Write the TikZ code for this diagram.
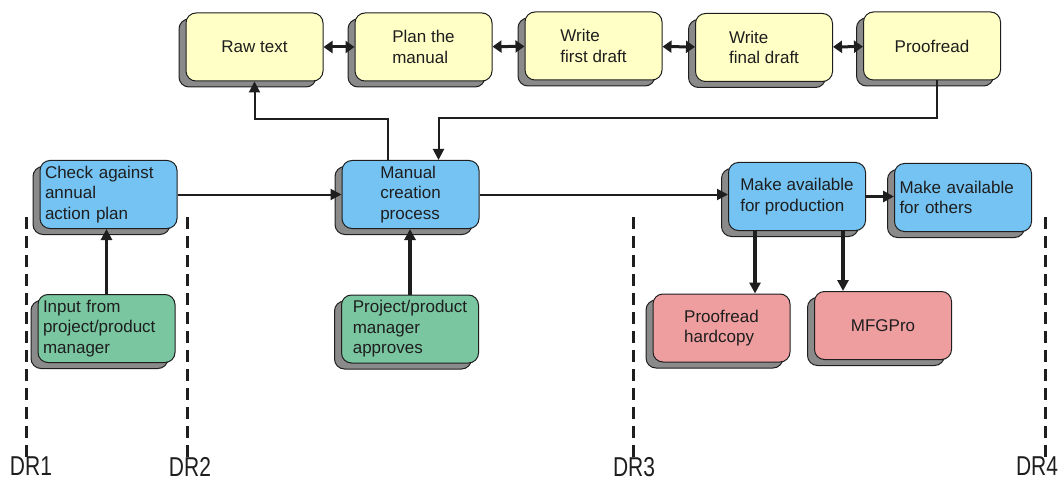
\documentclass[tikz,border=0pt]{standalone}
\usepackage{fontspec}
\setmainfont{Liberation Sans}
\usetikzlibrary{arrows.meta,shadows}
\definecolor{pad}{HTML}{FFFFC6}
\definecolor{sky}{HTML}{74C3F3}
\definecolor{mint}{HTML}{79C6A1}
\definecolor{rose}{HTML}{EF9EA0}
\definecolor{shade}{HTML}{8A8A8A}
\definecolor{ink}{HTML}{1E1E1E}
\begin{document}
\begin{tikzpicture}[x=1pt,y=-1pt,stage/.style={draw=ink,line width=1pt,rounded corners=10pt,minimum width=137pt,minimum height=68pt,inner sep=5pt,align=left,text=ink,font=\fontsize{17}{20.5}\selectfont,general shadow={shadow xshift=-7pt,shadow yshift=-6pt,fill=shade,draw=ink,line width=1pt}},wide/.style={text width=127pt},arr/.style={-{Triangle[length=11pt,width=11pt]},ink,line width=2pt},heavy/.style={arr,line width=3.3pt},both/.style={{Triangle[length=9pt,width=12pt]}-{Triangle[length=9pt,width=12pt]},ink,line width=3pt},drline/.style={ink,line width=3pt,dash pattern=on 12pt off 7pt},drlab/.style={anchor=north,inner sep=0pt,text=ink,font=\fontsize{21}{21}\selectfont}]
\useasboundingbox (0,0) rectangle (1064,481);
\node[stage,fill=pad] (raw) at (254.5,47) {Raw text};
\node[stage,fill=pad] (plan) at (423.5,47) {Plan the\\manual};
\node[stage,fill=pad] (first) at (593.5,46) {Write\\first draft};
\node[stage,fill=pad] (final) at (764,47.5) {Write\\final draft};
\node[stage,fill=pad] (proof) at (932,46) {Proofread};
\node[stage,fill=sky,wide] (check) at (108.5,194.5) {Check against\\annual\\action plan};
\node[stage,fill=sky] (manual) at (410.5,194.5) {Manual\\creation\\process};
\node[stage,fill=sky] (prod) at (797,196.5) {Make available\\for production};
\node[stage,fill=sky,wide] (others) at (963,197.5) {Make available\\for others};
\node[stage,fill=mint,wide] (input) at (106.5,328.5) {Input from\\project/product\\manager};
\node[stage,fill=mint] (approves) at (410,329) {Project/product\\manager\\approves};
\node[stage,fill=rose] (hardcopy) at (721.5,328) {Proofread\\hardcopy};
\node[stage,fill=rose] (mfg) at (883,325.5) {MFGPro};
\draw[both] (raw)--(plan);\draw[both] (plan)--(first);\draw[both] (first)--(final);\draw[both] (final)--(proof);
\draw[arr] ([xshift=46pt]manual.north west)--++(0,-41)-|(raw);
\draw[arr] ([xshift=5pt]proof.south)--++(0,38)-|([xshift=28pt]manual.north);
\draw[arr] (check)--(manual);\draw[arr] (manual)--(manual-|prod.west);
\draw[heavy] (prod)--(prod-|others.west);
\draw[heavy] (input)--(input|-check.south);\draw[heavy] (approves)--(approves|-manual.south);
\draw[heavy] ([xshift=27pt]prod.south west)--([xshift=27pt]prod.south west|-hardcopy.north);
\draw[heavy] ([xshift=-23pt]prod.south east)--([xshift=-23pt]prod.south east|-mfg.north);
\node[drlab] (dr1) at (31,457) {\scalebox{1}[1.3]{DR1}};
\node[drlab] (dr2) at (190,457) {\scalebox{1}[1.3]{DR2}};
\node[drlab] (dr3) at (634,457) {\scalebox{1}[1.3]{DR3}};
\node[drlab] (dr4) at (1037,457) {\scalebox{1}[1.3]{DR4}};
\coordinate (top1) at (26,217);\coordinate (top2) at (187,217);\coordinate (top3) at (633,217);\coordinate (top4) at (1045,217);
\draw[drline] (top1)--(top1|-dr1.north);\draw[drline] (top2)--(top2|-dr2.north);\draw[drline] (top3)--(top3|-dr3.north);\draw[drline] (top4)--(top4|-dr4.north);
\end{tikzpicture}
\end{document}
